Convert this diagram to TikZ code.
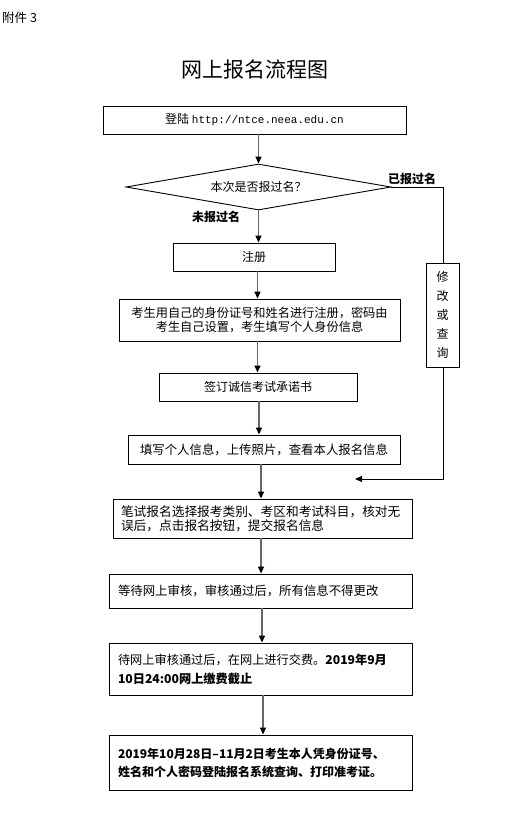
\documentclass[tikz,border=0pt]{standalone}
\usepackage{fontspec}
\setmainfont{Noto Sans CJK SC}
\usetikzlibrary{arrows.meta,shapes.geometric}
\tikzset{
  x=1pt,y=-1pt,
  boxc/.style={draw=black,line width=0.9pt,inner sep=0pt,font=\fontsize{12}{13.5}\selectfont,align=center},
  boxl/.style={draw=black,line width=0.9pt,inner sep=0pt,font=\fontsize{12}{14}\selectfont,align=left},
  arr/.style={draw=black!60,line width=1.4pt,-{Triangle[length=7pt,width=6pt,fill=black,color=black]}},
  thinline/.style={draw=black,line width=0.9pt},
  lbl/.style={font=\fontsize{12}{13}\selectfont\bfseries,inner sep=0pt}
}
\begin{document}
\begin{tikzpicture}
\useasboundingbox (0,0) rectangle (509,817);
\fill[white] (0,0) rectangle (509,817);
\node[font=\fontsize{12.5}{13}\selectfont,anchor=west,inner sep=0pt] (att) at (2,18) {附件 3};
\node[font=\fontsize{21}{22}\selectfont,inner sep=0pt] (title) at (255,70) {网上报名流程图};

\node[boxc,minimum width=303pt,minimum height=28pt] (b1) at (254.5,120) {登陆 {\fontspec{Liberation Mono}\fontsize{11}{12}\selectfont http://ntce.neea.edu.cn}};
\node[shape=diamond,draw=black,line width=0.9pt,inner sep=0pt,aspect=5.76,minimum width=265pt,minimum height=46pt,font=\fontsize{12}{13}\selectfont] (dia) at (258.5,187) {本次是否报过名？};
\node[boxc,minimum width=162pt,minimum height=28pt] (b2) at (254,257) {注册};
\node[boxc,minimum width=281pt,minimum height=42pt,font=\fontsize{12.2}{13.5}\selectfont] (b3) at (259.5,320) {考生用自己的身份证号和姓名进行注册，密码由\\考生自己设置，考生填写个人身份信息};
\node[boxc,minimum width=198pt,minimum height=28pt] (b4) at (258,387) {签订诚信考试承诺书};
\node[boxc,minimum width=272pt,minimum height=29pt,font=\fontsize{12.4}{13.5}\selectfont] (b5) at (264,449.5) {填写个人信息，上传照片，查看本人报名信息};
\node[boxl,minimum width=299pt,minimum height=39pt,text width=283pt,font=\fontsize{12.7}{14}\selectfont] (b6) at (262.5,518.5) {笔试报名选择报考类别、考区和考试科目，核对无\\误后，点击报名按钮，提交报名信息};
\node[boxl,minimum width=303pt,minimum height=34pt,text width=285pt,font=\fontsize{12.4}{14}\selectfont] (b7) at (260.5,591) {等待网上审核，审核通过后，所有信息不得更改};
\node[boxl,minimum width=303pt,minimum height=52pt,text width=285pt,font=\fontsize{12.2}{19}\selectfont] (b8) at (260.5,669) {待网上审核通过后，在网上进行交费。\textbf{2019年9月}\\\textbf{10日24:00网上缴费截止}};
\node[boxl,minimum width=303pt,minimum height=55pt,text width=285pt,font=\fontsize{12}{18}\selectfont\bfseries] (b9) at (260.5,762.5) {2019年10月28日–11月2日考生本人凭身份证号、\\姓名和个人密码登陆报名系统查询、打印准考证。};
\node[boxc,minimum width=33pt,minimum height=104pt,font=\fontsize{12}{19}\selectfont] (bs) at (442.5,315) {修\\改\\或\\查\\询};

\node[lbl] (yes) at (412,179) {已报过名};
\node[lbl] (no) at (216,217) {未报过名};

\coordinate (c1) at (443,187);
\coordinate (c2) at (443,479);
\coordinate (c3) at (355,479);

\draw[arr] (dia.north |- b1.south) -- (dia.north);
\draw[arr] (dia.south) -- (dia.south |- b2.north);
\draw[arr] (b2.south -| 257.5,0) -- (b3.north -| 257.5,0);
\draw[arr] (b3.south -| 257.5,0) -- (b4.north -| 257.5,0);
\draw[arr] (b4.south -| 259,0) -- (b5.north -| 259,0);
\draw[arr] (b5.south -| 261,0) -- (b6.north -| 261,0);
\draw[arr] (b6.south -| 261,0) -- (b7.north -| 261,0);
\draw[arr] (b7.south -| 262,0) -- (b8.north -| 262,0);
\draw[arr] (b8.south -| 263,0) -- (b9.north -| 263,0);

\draw[thinline] (dia.east) -- (c1) -- (bs.north -| c1);
\draw[thinline,-{Triangle[length=7pt,width=6pt]}] (bs.south -| c2) -- (c2) -- (c3);
\end{tikzpicture}
\end{document}
